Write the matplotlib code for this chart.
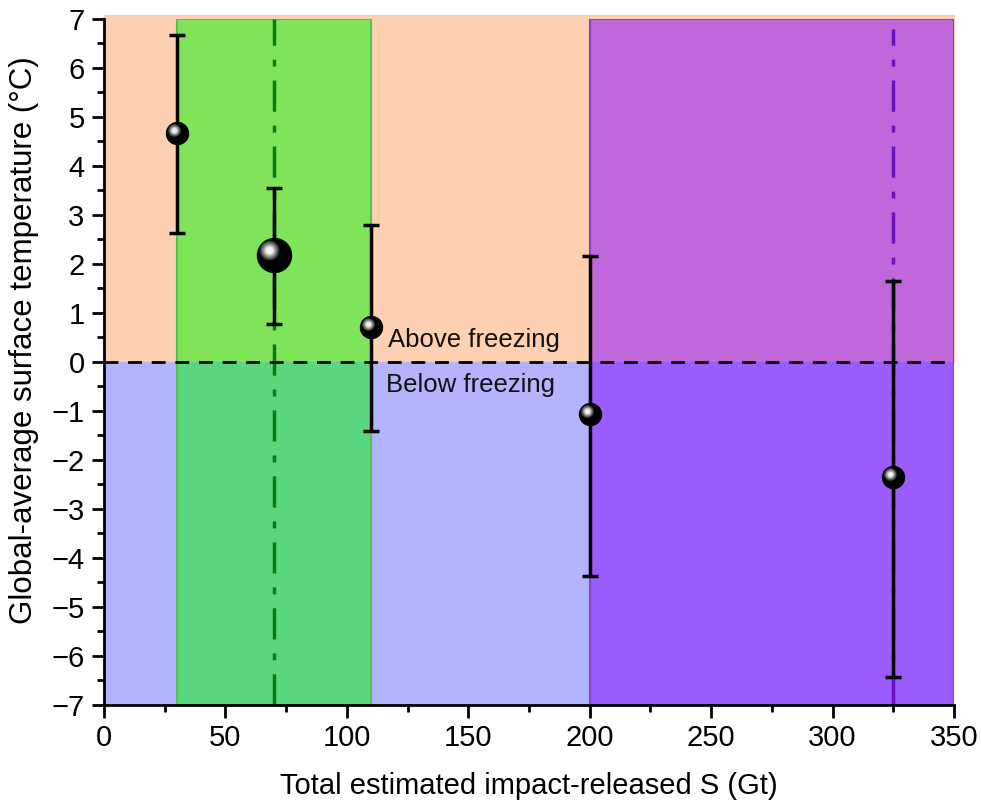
import numpy as np
import matplotlib
matplotlib.use("Agg")
import matplotlib.pyplot as plt
import matplotlib.transforms as mtransforms

plt.rcParams['font.family'] = ['Liberation Sans', 'DejaVu Sans']

# impact-released S (Gt) and global mean surface temperature (degC)
sulfur = [30, 70, 110, 200, 325]
temp = [4.68, 2.18, 0.71, -1.06, -2.35]
err_hi = [6.68, 3.56, 2.80, 2.17, 1.66]
err_lo = [2.64, 0.77, -1.40, -4.36, -6.42]
marker_size = [11, 17, 11, 11, 11]

# shaded ranges
green_range = (30, 110)
purple_range = (200, 350)
green_line = 70
purple_line = 325

fig = plt.figure(figsize=(9.81, 8.08), dpi=100)
ax = fig.add_axes([0.106, 0.1275, 0.8665, 0.849])
ax.set_xlim(0, 350)
ax.set_ylim(-7, 7)

# background: above / below freezing
ax.axhspan(0, 7.08, color='#fdd0b1', zorder=0, clip_on=False)
ax.axhspan(-7, 0, color='#b3b4fd', zorder=0)

# green range
ax.fill_between(green_range, 0, 7, color='#80e45b', zorder=1, lw=0)
ax.fill_between(green_range, -7, 0, color='#5ad67f', zorder=1, lw=0)
ax.add_patch(plt.Rectangle((green_range[0], -7), green_range[1] - green_range[0], 14,
                           fill=False, ec='#55c24a', lw=1.5, zorder=1.5))
# purple range
ax.fill_between(purple_range, 0, 7, color='#c068d9', zorder=1, lw=0)
ax.fill_between(purple_range, -7, 0, color='#9a5cfd', zorder=1, lw=0)
ax.add_patch(plt.Rectangle((purple_range[0], -7), purple_range[1] - purple_range[0], 14,
                           fill=False, ec='#8a3fc8', lw=1.5, zorder=1.5))

ax.axvline(green_line, ymin=0.0, ymax=1.0, color='#0b7a10', lw=2.5,
           ls=(0, (9, 4, 2, 4)), zorder=2)
ax.axvline(purple_line, ymin=0.0, ymax=0.985, color='#6a12c2', lw=2.5,
           ls=(0, (9, 4, 2, 4)), zorder=2)

ax.axhline(0, color='black', lw=2, ls=(0, (5, 3.5)), zorder=3)

ax.text(117, 0.45, 'Above freezing', fontsize=18.5, va='center', ha='left', color='#111111', zorder=3)
ax.text(116, -0.47, 'Below freezing', fontsize=18.5, va='center', ha='left', color='#111111', zorder=3)

# error bars
y = np.array(temp)
yerr = [y - np.array(err_lo), np.array(err_hi) - y]
ax.errorbar(sulfur, temp, yerr=yerr, fmt='none', ecolor='black', elinewidth=2.5,
            capsize=6, capthick=2.5, zorder=4)

# shaded spheres
for xi, yi, ms in zip(sulfur, temp, marker_size):
    ax.plot(xi, yi, 'o', ms=ms * 2 / 1.389, color='black', mec='black', zorder=5)
    off = mtransforms.offset_copy(ax.transData, fig=fig, x=-ms * 0.2, y=ms * 0.2, units='points')
    steps = 8
    for k in range(steps):
        frac = k / (steps - 1)
        size = ms * (0.85 - 0.55 * frac)
        shade = 0.18 + 0.78 * frac
        ax.plot(xi, yi, 'o', ms=size, color=(shade, shade, shade), mec='none',
                transform=off, zorder=5.1 + k * 0.01, alpha=0.9)

ax.set_xticks(np.arange(0, 351, 50))
ax.set_xticks(np.arange(0, 351, 25), minor=True)
ax.set_yticks(np.arange(-7, 8, 1))
ax.set_yticks(np.arange(-7, 7.01, 0.5), minor=True)
ax.set_yticklabels([str(v).replace('-', '\u2212') for v in range(-7, 8)])

ax.tick_params(which='major', direction='out', length=9, width=2, labelsize=21, pad=5)
ax.tick_params(which='minor', direction='out', length=5, width=2)
for side in ['top', 'right']:
    ax.spines[side].set_visible(False)
for side in ['left', 'bottom']:
    ax.spines[side].set_linewidth(2)
    ax.spines[side].set_zorder(6)

ax.set_xlabel('Total estimated impact-released S (Gt)', fontsize=21, labelpad=14)
ax.set_ylabel('Global-average surface temperature (\u00b0C)', fontsize=22.5)
ax.yaxis.set_label_coords(-0.077, 0.532)

fig.savefig('out.png', dpi=100)
